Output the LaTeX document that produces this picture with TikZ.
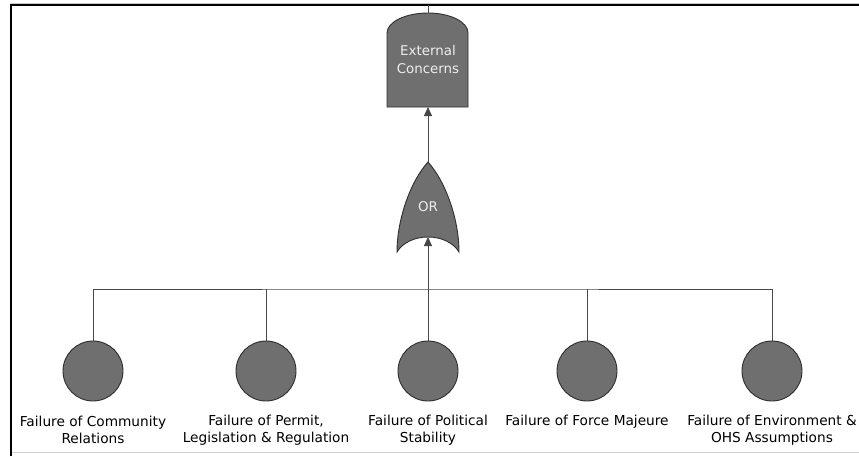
\documentclass[tikz,border=0pt]{standalone}
\usepackage{fontspec}
\setmainfont{DejaVu Sans}
\usetikzlibrary{arrows.meta}

\definecolor{gatefill}{HTML}{6F6F6F}
\definecolor{gateedge}{HTML}{2E2E2E}
\definecolor{wirecol}{HTML}{474747}
\definecolor{gatetext}{HTML}{EDEDED}

\tikzset{
  wire/.style={draw=wirecol, line width=0.9pt},
  feedarrow/.style={wire, -{Triangle[width=8pt,length=9pt]}},
  gateshape/.style={fill=gatefill, draw=gateedge, line width=0.9pt},
  event/.style={circle, minimum size=60pt, inner sep=0pt, fill=gatefill, draw=gateedge, line width=0.9pt},
  gatelabel/.style={text=gatetext, align=center, inner sep=0pt,
    font=\fontsize{13.4pt}{18pt}\selectfont},
  evlabel/.style={text=black, align=center, inner sep=0pt,
    font=\fontsize{13.7pt}{17.5pt}\selectfont},
  frameline/.style={draw=black, line width=2pt},
}

\begin{document}
\begin{tikzpicture}[x=1pt, y=-1pt]
  \useasboundingbox (0,0) rectangle (859,456);
  \fill[white] (0,0) rectangle (859,456);

  % outer frame
  \draw[draw=gray!45, line width=0.8pt] (10,3) -- (859,3);
  \draw[frameline] (11,456) -- (11,5) -- (859,5);
  \draw[draw=gray!35, line width=0.8pt] (12,452.5) -- (859,452.5);

  % connection points of the gates
  \coordinate (feed)   at (428,5);
  \coordinate (extout) at (428,13);
  \coordinate (extin)  at (428,107);
  \coordinate (orout)  at (428,162);
  \coordinate (orin)   at (428,237);
  \coordinate (bus)    at (428,289);

  % top event: rectangle with rounded head
  \path[gateshape] (387,107) -- (387,33)
    .. controls (387,22) and (405.6,13) .. (428,13)
    .. controls (450.4,13) and (468,22) .. (468,33)
    -- (468,107) -- cycle;
  \node[gatelabel] (ext) at (428,59) {External\\Concerns};

  % OR gate
  \path[gateshape] (orout)
    .. controls (446,182) and (459,220) .. (459,252)
    .. controls (447,232) and (409,232) .. (397,252)
    .. controls (397,220) and (410,182) .. (orout) -- cycle;
  \node[gatelabel] (orgate) at (428,207) {OR};

  % basic events
  \node[event] (c1) at (93,371)  {};
  \node[event] (c2) at (266,371) {};
  \node[event] (c3) at (428,371) {};
  \node[event] (c4) at (587,371) {};
  \node[event] (c5) at (772,371) {};

  \node[evlabel] (l1) at (93,430)  {Failure of Community\\Relations};
  \node[evlabel] (l2) at (266,430) {Failure of Permit,\\Legislation \& Regulation};
  \node[evlabel] (l3) at (428,430) {Failure of Political\\Stability};
  \node[evlabel] (l4) at (587,421.5) {Failure of Force Majeure};
  \node[evlabel] (l5) at (772,430) {Failure of Environment \&\\OHS Assumptions};

  % connectors
  \draw[wire] (feed) -- (extout);
  \draw[feedarrow] (orout) -- (extin);
  \draw[wire] (c1.north) |- (bus) -| (c5.north);
  \draw[wire] (c2.north) -- (c2.north |- bus);
  \draw[wire] (c4.north) -- (c4.north |- bus);
  \draw[feedarrow] (c3.north) -- (orin);
\end{tikzpicture}
\end{document}
